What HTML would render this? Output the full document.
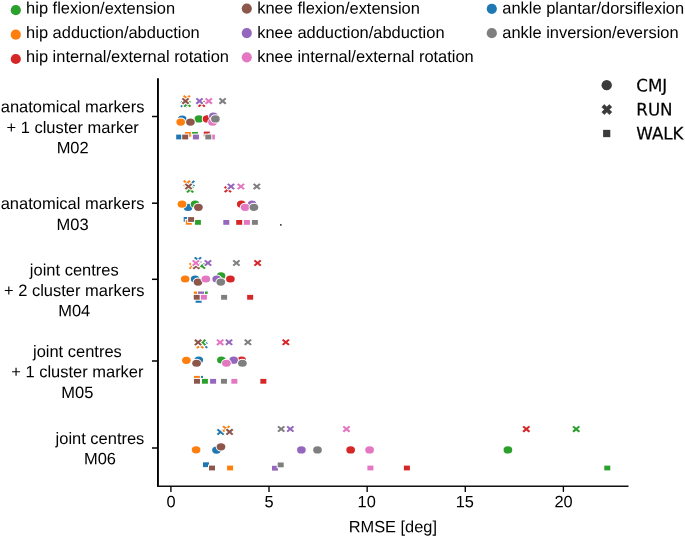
<!DOCTYPE html>
<html lang="en"><head><meta charset="utf-8"><title>RMSE by marker set</title>
<style>html,body{margin:0;padding:0;background:#fff}svg{display:block}.ls{font-family:"Liberation Sans",sans-serif;fill:#000}.dv{font-family:"DejaVu Sans",sans-serif;fill:#000;stroke:#000;stroke-width:.2px}</style></head><body>
<svg width="685" height="537" viewBox="0 0 685 537">
<rect width="685" height="537" fill="#fff"/>
<circle cx="15.8" cy="10.2" r="5.1" fill="#2ca02c"/>
<text class="ls" transform="matrix(1,0.0005,0,1,26.10,13.60)" font-size="16.45">hip flexion/extension</text>
<circle cx="15.8" cy="34.7" r="5.1" fill="#ff7f0e"/>
<text class="ls" transform="matrix(1,0.0005,0,1,26.10,37.90)" font-size="16.45">hip adduction/abduction</text>
<circle cx="15.8" cy="59.0" r="5.1" fill="#d62728"/>
<text class="ls" transform="matrix(1,0.0005,0,1,26.10,62.00)" font-size="16.45">hip internal/external rotation</text>
<circle cx="246.8" cy="8.6" r="5.1" fill="#8c564b"/>
<text class="ls" transform="matrix(1,0.0005,0,1,257.20,13.60)" font-size="16.45">knee flexion/extension</text>
<circle cx="246.8" cy="33.1" r="5.1" fill="#9467bd"/>
<text class="ls" transform="matrix(1,0.0005,0,1,257.20,37.90)" font-size="16.45">knee adduction/abduction</text>
<circle cx="246.8" cy="57.3" r="5.1" fill="#e377c2"/>
<text class="ls" transform="matrix(1,0.0005,0,1,257.20,62.00)" font-size="16.45">knee internal/external rotation</text>
<circle cx="491.8" cy="8.8" r="5.1" fill="#1f77b4"/>
<text class="ls" transform="matrix(1,0.0005,0,1,502.30,13.60)" font-size="16.45">ankle plantar/dorsiflexion</text>
<circle cx="491.8" cy="33.2" r="5.1" fill="#7f7f7f"/>
<text class="ls" transform="matrix(1,0.0005,0,1,502.30,37.90)" font-size="16.45">ankle inversion/eversion</text>
<path d="M157.95 78.3V486.8" stroke="#000" stroke-width="1.9" fill="none"/>
<path d="M157 486.3H628.5" stroke="#111" stroke-width="1.55" fill="none"/>
<path d="M152 116.5H157.5" stroke="#000" stroke-width="1.5"/>
<text class="ls" transform="matrix(1,0.0005,0,1,72.65,112.25)" font-size="16.47" text-anchor="middle">anatomical markers</text>
<text class="ls" transform="matrix(1,0.0005,0,1,72.65,133.00)" font-size="16.47" text-anchor="middle">+ 1 cluster marker</text>
<text class="ls" transform="matrix(1,0.0005,0,1,72.65,153.35)" font-size="16.47" text-anchor="middle">M02</text>
<path d="M152 203.2H157.5" stroke="#000" stroke-width="1.5"/>
<text class="ls" transform="matrix(1,0.0005,0,1,72.55,209.05)" font-size="16.47" text-anchor="middle">anatomical markers</text>
<text class="ls" transform="matrix(1,0.0005,0,1,72.55,229.90)" font-size="16.47" text-anchor="middle">M03</text>
<path d="M152 279.3H157.5" stroke="#000" stroke-width="1.5"/>
<text class="ls" transform="matrix(1,0.0005,0,1,74.26,275.45)" font-size="16.47" text-anchor="middle">joint centres</text>
<text class="ls" transform="matrix(1,0.0005,0,1,74.26,296.00)" font-size="16.47" text-anchor="middle">+ 2 cluster markers</text>
<text class="ls" transform="matrix(1,0.0005,0,1,74.26,316.30)" font-size="16.47" text-anchor="middle">M04</text>
<path d="M152 361.0H157.5" stroke="#000" stroke-width="1.5"/>
<text class="ls" transform="matrix(1,0.0005,0,1,77.37,357.10)" font-size="16.47" text-anchor="middle">joint centres</text>
<text class="ls" transform="matrix(1,0.0005,0,1,77.37,377.20)" font-size="16.47" text-anchor="middle">+ 1 cluster marker</text>
<text class="ls" transform="matrix(1,0.0005,0,1,77.37,398.00)" font-size="16.47" text-anchor="middle">M05</text>
<path d="M152 448.0H157.5" stroke="#000" stroke-width="1.5"/>
<text class="ls" transform="matrix(1,0.0005,0,1,99.95,444.00)" font-size="16.47" text-anchor="middle">joint centres</text>
<text class="ls" transform="matrix(1,0.0005,0,1,99.95,464.15)" font-size="16.47" text-anchor="middle">M06</text>
<path d="M170.90 486V491.9" stroke="#000" stroke-width="1.35"/>
<text class="ls" transform="matrix(1,0.0005,0,1,171.00,507.30)" font-size="16.4" text-anchor="middle">0</text>
<path d="M269.02 486V491.9" stroke="#000" stroke-width="1.35"/>
<text class="ls" transform="matrix(1,0.0005,0,1,269.12,507.30)" font-size="16.4" text-anchor="middle">5</text>
<path d="M367.15 486V491.9" stroke="#000" stroke-width="1.35"/>
<text class="ls" transform="matrix(1,0.0005,0,1,366.70,507.30)" font-size="16.4" text-anchor="middle">10</text>
<path d="M465.27 486V491.9" stroke="#000" stroke-width="1.35"/>
<text class="ls" transform="matrix(1,0.0005,0,1,464.82,507.30)" font-size="16.4" text-anchor="middle">15</text>
<path d="M563.40 486V491.9" stroke="#000" stroke-width="1.35"/>
<text class="ls" transform="matrix(1,0.0005,0,1,563.50,507.30)" font-size="16.4" text-anchor="middle">20</text>
<text class="ls" transform="matrix(1,0.0005,0,1,392.80,532.15)" font-size="16.38" text-anchor="middle">RMSE [deg]</text>
<circle cx="606.7" cy="85.2" r="5.15" fill="#3b3b3b"/>
<polygon points="604.30,104.60 606.80,107.10 609.30,104.60 611.80,107.10 609.30,109.60 611.80,112.10 609.30,114.60 606.80,112.10 604.30,114.60 601.80,112.10 604.30,109.60 601.80,107.10" fill="#3b3b3b" stroke="#3b3b3b" stroke-width="0.6" stroke-linejoin="round"/>
<rect x="603.1" y="129.85" width="7.2" height="7.3" fill="#3b3b3b"/>
<text class="dv" transform="matrix(1,0.0005,0,1.033,636.30,91.60)" font-size="16.7">CMJ</text>
<text class="dv" transform="matrix(1,0.0005,0,1.033,636.30,115.60)" font-size="16.7">RUN</text>
<text class="dv" transform="matrix(1,0.0005,0,1.033,636.30,139.60)" font-size="16.7">WALK</text>
<g stroke="#fff" stroke-width="2.0" stroke-linejoin="miter" paint-order="stroke">
<polygon points="181.73,101.00 184.10,102.98 186.47,101.00 188.05,102.32 185.68,104.30 188.05,106.28 186.47,107.60 184.10,105.62 181.73,107.60 180.15,106.28 182.52,104.30 180.15,102.32" fill="#1f77b4"/>
<polygon points="184.33,95.10 186.70,97.08 189.07,95.10 190.65,96.42 188.28,98.40 190.65,100.38 189.07,101.70 186.70,99.72 184.33,101.70 182.75,100.38 185.12,98.40 182.75,96.42" fill="#ff7f0e"/>
<polygon points="184.93,100.70 187.30,102.68 189.67,100.70 191.25,102.02 188.88,104.00 191.25,105.98 189.67,107.30 187.30,105.32 184.93,107.30 183.35,105.98 185.72,104.00 183.35,102.02" fill="#2ca02c"/>
<polygon points="199.33,100.70 201.70,102.68 204.07,100.70 205.65,102.02 203.28,104.00 205.65,105.98 204.07,107.30 201.70,105.32 199.33,107.30 197.75,105.98 200.12,104.00 197.75,102.02" fill="#d62728"/>
<polygon points="197.13,97.80 199.50,99.78 201.87,97.80 203.45,99.12 201.08,101.10 203.45,103.08 201.87,104.40 199.50,102.42 197.13,104.40 195.55,103.08 197.92,101.10 195.55,99.12" fill="#9467bd"/>
<polygon points="183.13,97.80 185.50,99.78 187.87,97.80 189.45,99.12 187.08,101.10 189.45,103.08 187.87,104.40 185.50,102.42 183.13,104.40 181.55,103.08 183.92,101.10 181.55,99.12" fill="#8c564b"/>
<polygon points="206.38,97.80 208.75,99.78 211.12,97.80 212.70,99.12 210.33,101.10 212.70,103.08 211.12,104.40 208.75,102.42 206.38,104.40 204.80,103.08 207.17,101.10 204.80,99.12" fill="#e377c2"/>
<polygon points="220.23,97.80 222.60,99.78 224.97,97.80 226.55,99.12 224.18,101.10 226.55,103.08 224.97,104.40 222.60,102.42 220.23,104.40 218.65,103.08 221.02,101.10 218.65,99.12" fill="#7f7f7f"/>
<ellipse cx="182.20" cy="119.20" rx="4.35" ry="3.6" fill="#1f77b4"/>
<ellipse cx="180.70" cy="122.10" rx="4.35" ry="3.6" fill="#ff7f0e"/>
<ellipse cx="198.90" cy="118.90" rx="4.35" ry="3.6" fill="#2ca02c"/>
<ellipse cx="207.10" cy="118.90" rx="4.35" ry="3.6" fill="#d62728"/>
<ellipse cx="213.40" cy="116.00" rx="4.35" ry="3.6" fill="#9467bd"/>
<ellipse cx="190.40" cy="122.10" rx="4.35" ry="3.6" fill="#8c564b"/>
<ellipse cx="212.60" cy="122.20" rx="4.35" ry="3.6" fill="#e377c2"/>
<ellipse cx="215.40" cy="118.90" rx="4.35" ry="3.6" fill="#7f7f7f"/>
<rect x="176.20" y="134.60" width="6.0" height="4.8" fill="#1f77b4"/>
<rect x="184.90" y="132.00" width="6.0" height="4.8" fill="#ff7f0e"/>
<rect x="191.90" y="132.00" width="6.0" height="4.8" fill="#2ca02c"/>
<rect x="203.80" y="131.60" width="6.0" height="4.8" fill="#d62728"/>
<rect x="192.90" y="134.60" width="6.0" height="4.8" fill="#9467bd"/>
<rect x="182.20" y="134.60" width="6.0" height="4.8" fill="#8c564b"/>
<rect x="208.90" y="134.60" width="6.0" height="4.8" fill="#e377c2"/>
<rect x="205.30" y="134.60" width="6.0" height="4.8" fill="#7f7f7f"/>
<polygon points="188.73,180.30 191.10,182.28 193.47,180.30 195.05,181.62 192.68,183.60 195.05,185.58 193.47,186.90 191.10,184.92 188.73,186.90 187.15,185.58 189.52,183.60 187.15,181.62" fill="#1f77b4"/>
<polygon points="184.53,180.00 186.90,181.98 189.27,180.00 190.85,181.32 188.48,183.30 190.85,185.28 189.27,186.60 186.90,184.62 184.53,186.60 182.95,185.28 185.32,183.30 182.95,181.32" fill="#ff7f0e"/>
<polygon points="187.73,186.40 190.10,188.38 192.47,186.40 194.05,187.72 191.68,189.70 194.05,191.68 192.47,193.00 190.10,191.02 187.73,193.00 186.15,191.68 188.52,189.70 186.15,187.72" fill="#2ca02c"/>
<polygon points="225.48,186.10 227.85,188.08 230.22,186.10 231.80,187.42 229.43,189.40 231.80,191.38 230.22,192.70 227.85,190.72 225.48,192.70 223.90,191.38 226.27,189.40 223.90,187.42" fill="#d62728"/>
<polygon points="228.63,183.15 231.00,185.13 233.37,183.15 234.95,184.47 232.58,186.45 234.95,188.43 233.37,189.75 231.00,187.77 228.63,189.75 227.05,188.43 229.42,186.45 227.05,184.47" fill="#9467bd"/>
<polygon points="186.13,183.20 188.50,185.18 190.87,183.20 192.45,184.52 190.08,186.50 192.45,188.48 190.87,189.80 188.50,187.82 186.13,189.80 184.55,188.48 186.92,186.50 184.55,184.52" fill="#8c564b"/>
<polygon points="238.53,183.15 240.90,185.13 243.27,183.15 244.85,184.47 242.48,186.45 244.85,188.43 243.27,189.75 240.90,187.77 238.53,189.75 236.95,188.43 239.32,186.45 236.95,184.47" fill="#e377c2"/>
<polygon points="254.43,183.15 256.80,185.13 259.17,183.15 260.75,184.47 258.38,186.45 260.75,188.43 259.17,189.75 256.80,187.77 254.43,189.75 252.85,188.43 255.22,186.45 252.85,184.47" fill="#7f7f7f"/>
<ellipse cx="188.00" cy="207.40" rx="4.35" ry="3.6" fill="#1f77b4"/>
<ellipse cx="182.00" cy="204.20" rx="4.35" ry="3.6" fill="#ff7f0e"/>
<ellipse cx="195.10" cy="204.20" rx="4.35" ry="3.6" fill="#2ca02c"/>
<ellipse cx="241.30" cy="204.20" rx="4.35" ry="3.6" fill="#d62728"/>
<ellipse cx="252.10" cy="204.20" rx="4.35" ry="3.6" fill="#9467bd"/>
<ellipse cx="198.40" cy="207.35" rx="4.35" ry="3.6" fill="#8c564b"/>
<ellipse cx="245.10" cy="207.35" rx="4.35" ry="3.6" fill="#e377c2"/>
<ellipse cx="253.90" cy="207.35" rx="4.35" ry="3.6" fill="#7f7f7f"/>
<rect x="183.70" y="217.00" width="6.0" height="4.8" fill="#1f77b4"/>
<rect x="185.80" y="219.90" width="6.0" height="4.8" fill="#ff7f0e"/>
<rect x="194.90" y="220.00" width="6.0" height="4.8" fill="#2ca02c"/>
<rect x="236.20" y="220.00" width="6.0" height="4.8" fill="#d62728"/>
<rect x="223.30" y="220.00" width="6.0" height="4.8" fill="#9467bd"/>
<rect x="188.10" y="217.10" width="6.0" height="4.8" fill="#8c564b"/>
<rect x="243.90" y="220.00" width="6.0" height="4.8" fill="#e377c2"/>
<rect x="251.90" y="220.00" width="6.0" height="4.8" fill="#7f7f7f"/>
<polygon points="195.53,256.70 197.90,258.68 200.27,256.70 201.85,258.02 199.48,260.00 201.85,261.98 200.27,263.30 197.90,261.32 195.53,263.30 193.95,261.98 196.32,260.00 193.95,258.02" fill="#1f77b4"/>
<polygon points="190.33,262.70 192.70,264.68 195.07,262.70 196.65,264.02 194.28,266.00 196.65,267.98 195.07,269.30 192.70,267.32 190.33,269.30 188.75,267.98 191.12,266.00 188.75,264.02" fill="#ff7f0e"/>
<polygon points="199.53,262.70 201.90,264.68 204.27,262.70 205.85,264.02 203.48,266.00 205.85,267.98 204.27,269.30 201.90,267.32 199.53,269.30 197.95,267.98 200.32,266.00 197.95,264.02" fill="#2ca02c"/>
<polygon points="255.23,259.70 257.60,261.68 259.97,259.70 261.55,261.02 259.18,263.00 261.55,264.98 259.97,266.30 257.60,264.32 255.23,266.30 253.65,264.98 256.02,263.00 253.65,261.02" fill="#d62728"/>
<polygon points="205.61,259.68 207.98,261.66 210.35,259.68 211.93,261.00 209.56,262.98 211.93,264.96 210.35,266.28 207.98,264.30 205.61,266.28 204.03,264.96 206.40,262.98 204.03,261.00" fill="#9467bd"/>
<polygon points="193.93,262.80 196.30,264.78 198.67,262.80 200.25,264.12 197.88,266.10 200.25,268.08 198.67,269.40 196.30,267.42 193.93,269.40 192.35,268.08 194.72,266.10 192.35,264.12" fill="#8c564b"/>
<polygon points="193.47,259.68 195.84,261.66 198.21,259.68 199.79,261.00 197.42,262.98 199.79,264.96 198.21,266.28 195.84,264.30 193.47,266.28 191.89,264.96 194.26,262.98 191.89,261.00" fill="#e377c2"/>
<polygon points="234.03,259.70 236.40,261.68 238.77,259.70 240.35,261.02 237.98,263.00 240.35,264.98 238.77,266.30 236.40,264.32 234.03,266.30 232.45,264.98 234.82,263.00 232.45,261.02" fill="#7f7f7f"/>
<ellipse cx="195.10" cy="279.00" rx="4.35" ry="3.6" fill="#1f77b4"/>
<ellipse cx="185.20" cy="279.00" rx="4.35" ry="3.6" fill="#ff7f0e"/>
<ellipse cx="221.00" cy="275.90" rx="4.35" ry="3.6" fill="#2ca02c"/>
<ellipse cx="230.40" cy="279.00" rx="4.35" ry="3.6" fill="#d62728"/>
<ellipse cx="216.70" cy="279.00" rx="4.35" ry="3.6" fill="#9467bd"/>
<ellipse cx="198.00" cy="282.10" rx="4.35" ry="3.6" fill="#8c564b"/>
<ellipse cx="205.85" cy="279.00" rx="4.35" ry="3.6" fill="#e377c2"/>
<ellipse cx="220.80" cy="282.10" rx="4.35" ry="3.6" fill="#7f7f7f"/>
<rect x="195.60" y="298.00" width="6.0" height="4.8" fill="#1f77b4"/>
<rect x="193.80" y="291.50" width="6.0" height="4.8" fill="#ff7f0e"/>
<rect x="201.70" y="291.50" width="6.0" height="4.8" fill="#2ca02c"/>
<rect x="247.15" y="294.90" width="6.0" height="4.8" fill="#d62728"/>
<rect x="198.00" y="291.50" width="6.0" height="4.8" fill="#9467bd"/>
<rect x="193.77" y="294.87" width="6.0" height="4.8" fill="#8c564b"/>
<rect x="200.90" y="294.87" width="6.0" height="4.8" fill="#e377c2"/>
<rect x="221.10" y="294.90" width="6.0" height="4.8" fill="#7f7f7f"/>
<polygon points="201.63,342.00 204.00,343.98 206.37,342.00 207.95,343.32 205.58,345.30 207.95,347.28 206.37,348.60 204.00,346.62 201.63,348.60 200.05,347.28 202.42,345.30 200.05,343.32" fill="#1f77b4"/>
<polygon points="197.73,342.10 200.10,344.08 202.47,342.10 204.05,343.42 201.68,345.40 204.05,347.38 202.47,348.70 200.10,346.72 197.73,348.70 196.15,347.38 198.52,345.40 196.15,343.42" fill="#ff7f0e"/>
<polygon points="199.88,339.10 202.25,341.08 204.62,339.10 206.20,340.42 203.83,342.40 206.20,344.38 204.62,345.70 202.25,343.72 199.88,345.70 198.30,344.38 200.67,342.40 198.30,340.42" fill="#2ca02c"/>
<polygon points="283.43,339.00 285.80,340.98 288.17,339.00 289.75,340.32 287.38,342.30 289.75,344.28 288.17,345.60 285.80,343.62 283.43,345.60 281.85,344.28 284.22,342.30 281.85,340.32" fill="#d62728"/>
<polygon points="226.63,339.00 229.00,340.98 231.37,339.00 232.95,340.32 230.58,342.30 232.95,344.28 231.37,345.60 229.00,343.62 226.63,345.60 225.05,344.28 227.42,342.30 225.05,340.32" fill="#9467bd"/>
<polygon points="195.67,339.10 198.04,341.08 200.41,339.10 201.99,340.42 199.62,342.40 201.99,344.38 200.41,345.70 198.04,343.72 195.67,345.70 194.09,344.38 196.46,342.40 194.09,340.42" fill="#8c564b"/>
<polygon points="217.78,339.05 220.15,341.03 222.52,339.05 224.10,340.37 221.73,342.35 224.10,344.33 222.52,345.65 220.15,343.67 217.78,345.65 216.20,344.33 218.57,342.35 216.20,340.37" fill="#e377c2"/>
<polygon points="245.53,339.00 247.90,340.98 250.27,339.00 251.85,340.32 249.48,342.30 251.85,344.28 250.27,345.60 247.90,343.62 245.53,345.60 243.95,344.28 246.32,342.30 243.95,340.32" fill="#7f7f7f"/>
<ellipse cx="198.75" cy="360.00" rx="4.35" ry="3.6" fill="#1f77b4"/>
<ellipse cx="186.35" cy="360.30" rx="4.35" ry="3.6" fill="#ff7f0e"/>
<ellipse cx="221.40" cy="360.00" rx="4.35" ry="3.6" fill="#2ca02c"/>
<ellipse cx="241.65" cy="360.15" rx="4.35" ry="3.6" fill="#d62728"/>
<ellipse cx="233.65" cy="360.15" rx="4.35" ry="3.6" fill="#9467bd"/>
<ellipse cx="196.55" cy="363.25" rx="4.35" ry="3.6" fill="#8c564b"/>
<ellipse cx="226.40" cy="363.25" rx="4.35" ry="3.6" fill="#e377c2"/>
<ellipse cx="242.40" cy="363.25" rx="4.35" ry="3.6" fill="#7f7f7f"/>
<rect x="197.00" y="375.90" width="6.0" height="4.8" fill="#1f77b4"/>
<rect x="193.90" y="375.90" width="6.0" height="4.8" fill="#ff7f0e"/>
<rect x="201.90" y="378.90" width="6.0" height="4.8" fill="#2ca02c"/>
<rect x="260.35" y="378.90" width="6.0" height="4.8" fill="#d62728"/>
<rect x="210.10" y="378.90" width="6.0" height="4.8" fill="#9467bd"/>
<rect x="193.98" y="378.90" width="6.0" height="4.8" fill="#8c564b"/>
<rect x="231.35" y="378.90" width="6.0" height="4.8" fill="#e377c2"/>
<rect x="220.96" y="378.90" width="6.0" height="4.8" fill="#7f7f7f"/>
<polygon points="218.23,428.70 220.60,430.68 222.97,428.70 224.55,430.02 222.18,432.00 224.55,433.98 222.97,435.30 220.60,433.32 218.23,435.30 216.65,433.98 219.02,432.00 216.65,430.02" fill="#1f77b4"/>
<polygon points="223.83,425.55 226.20,427.53 228.57,425.55 230.15,426.87 227.78,428.85 230.15,430.83 228.57,432.15 226.20,430.17 223.83,432.15 222.25,430.83 224.62,428.85 222.25,426.87" fill="#ff7f0e"/>
<polygon points="573.83,425.80 576.20,427.78 578.57,425.80 580.15,427.12 577.78,429.10 580.15,431.08 578.57,432.40 576.20,430.42 573.83,432.40 572.25,431.08 574.62,429.10 572.25,427.12" fill="#2ca02c"/>
<polygon points="523.93,425.80 526.30,427.78 528.67,425.80 530.25,427.12 527.88,429.10 530.25,431.08 528.67,432.40 526.30,430.42 523.93,432.40 522.35,431.08 524.72,429.10 522.35,427.12" fill="#d62728"/>
<polygon points="287.93,425.70 290.30,427.68 292.67,425.70 294.25,427.02 291.88,429.00 294.25,430.98 292.67,432.30 290.30,430.32 287.93,432.30 286.35,430.98 288.72,429.00 286.35,427.02" fill="#9467bd"/>
<polygon points="227.18,428.60 229.55,430.58 231.92,428.60 233.50,429.92 231.13,431.90 233.50,433.88 231.92,435.20 229.55,433.22 227.18,435.20 225.60,433.88 227.97,431.90 225.60,429.92" fill="#8c564b"/>
<polygon points="344.08,425.80 346.45,427.78 348.82,425.80 350.40,427.12 348.03,429.10 350.40,431.08 348.82,432.40 346.45,430.42 344.08,432.40 342.50,431.08 344.87,429.10 342.50,427.12" fill="#e377c2"/>
<polygon points="278.83,425.70 281.20,427.68 283.57,425.70 285.15,427.02 282.78,429.00 285.15,430.98 283.57,432.30 281.20,430.32 278.83,432.30 277.25,430.98 279.62,429.00 277.25,427.02" fill="#7f7f7f"/>
<ellipse cx="216.50" cy="450.10" rx="4.35" ry="3.6" fill="#1f77b4"/>
<ellipse cx="196.10" cy="449.80" rx="4.35" ry="3.6" fill="#ff7f0e"/>
<ellipse cx="507.90" cy="449.90" rx="4.35" ry="3.6" fill="#2ca02c"/>
<ellipse cx="350.65" cy="449.90" rx="4.35" ry="3.6" fill="#d62728"/>
<ellipse cx="301.40" cy="449.90" rx="4.35" ry="3.6" fill="#9467bd"/>
<ellipse cx="221.00" cy="446.85" rx="4.35" ry="3.6" fill="#8c564b"/>
<ellipse cx="369.60" cy="449.90" rx="4.35" ry="3.6" fill="#e377c2"/>
<ellipse cx="317.50" cy="449.90" rx="4.35" ry="3.6" fill="#7f7f7f"/>
<rect x="203.00" y="462.30" width="6.0" height="4.8" fill="#1f77b4"/>
<rect x="227.10" y="465.60" width="6.0" height="4.8" fill="#ff7f0e"/>
<rect x="604.30" y="465.60" width="6.0" height="4.8" fill="#2ca02c"/>
<rect x="403.90" y="465.60" width="6.0" height="4.8" fill="#d62728"/>
<rect x="272.00" y="465.80" width="6.0" height="4.8" fill="#9467bd"/>
<rect x="209.00" y="465.60" width="6.0" height="4.8" fill="#8c564b"/>
<rect x="367.40" y="465.60" width="6.0" height="4.8" fill="#e377c2"/>
<rect x="277.70" y="462.50" width="6.0" height="4.8" fill="#7f7f7f"/>
</g>
<rect x="280" y="224.1" width="1.6" height="1.6" fill="#333"/>
</svg></body></html>
